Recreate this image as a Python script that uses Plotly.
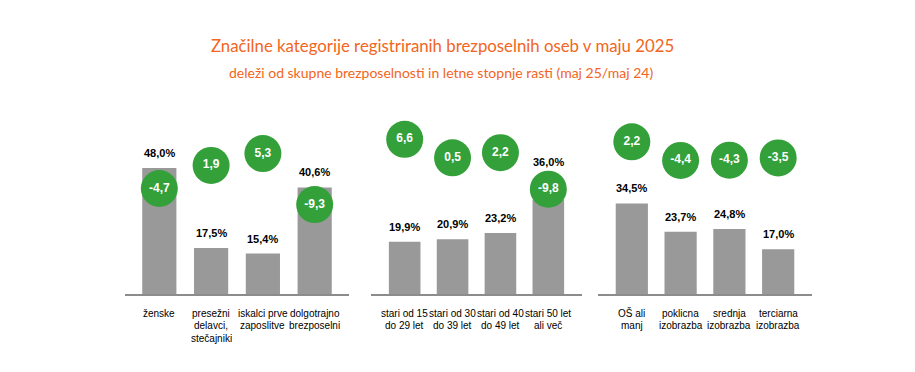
import plotly.graph_objects as go

# ---- data ----
cats1 = ["ženske", "presežni<br>delavci,<br>stečajniki", "iskalci prve<br>zaposlitve", "dolgotrajno<br>brezposelni"]
share1 = [48.0, 17.5, 15.4, 40.6]
growth1 = [-4.7, 1.9, 5.3, -9.3]

cats2 = ["stari od 15<br>do 29 let", "stari od 30<br>do 39 let", "stari od 40<br>do 49 let", "stari 50 let<br>ali več"]
share2 = [19.9, 20.9, 23.2, 36.0]
growth2 = [6.6, 0.5, 2.2, -9.8]

cats3 = ["OŠ ali<br>manj", "poklicna<br>izobrazba", "srednja<br>izobrazba", "terciarna<br>izobrazba"]
share3 = [34.5, 23.7, 24.8, 17.0]
growth3 = [2.2, -4.4, -4.3, -3.5]

title = "Značilne kategorije registriranih brezposelnih oseb v maju 2025"
subtitle = "deleži od skupne brezposelnosti in letne stopnje rasti (maj 25/maj 24)"

# ---- style ----
W, H = 915, 372
BAR = "#999999"
GREEN = "#34A03A"
ORANGE = "#F26522"
AXIS = "#8C8C8C"
SANS = "Liberation Sans, Arial, sans-serif"
BASE_PX, TOP_PX, BAR_MAX = 294, 136.5, 60
R = 18.5

def py(px):
    return 1 - px / H

panels = [
    (cats1, share1, growth1, [125 / W, 349 / W], [-57.19, 49.22]),
    (cats2, share2, growth2, [371 / W, 582 / W], [-69.99, 52.46]),
    (cats3, share3, growth3, [598 / W, 812 / W], [-79.41, 52.50]),
]

fig = go.Figure()
annotations = []
layout = {}

for i, (cats, share, growth, xdom, grange) in enumerate(panels):
    n = i + 1
    xa = "x" if n == 1 else f"x{n}"
    ya = "y" if n == 1 else f"y{n}"
    ga = f"y{n + 3}"
    keys = [c.replace("<br>", " ") for c in cats]

    fig.add_trace(go.Bar(
        x=keys, y=share, xaxis=xa, yaxis=ya,
        marker=dict(color=BAR, line=dict(width=0)),
        width=0.66, showlegend=False, hoverinfo="skip",
    ))
    fig.add_trace(go.Scatter(
        x=keys, y=growth, xaxis=xa, yaxis=ga,
        mode="markers+text",
        marker=dict(size=2 * R, color=GREEN, line=dict(width=0)),
        text=[f"{v:.1f}".replace(".", ",") for v in growth],
        textposition="middle center",
        textfont=dict(family=SANS, size=12, color="white", weight="bold"),
        showlegend=False, hoverinfo="skip", cliponaxis=False,
    ))

    layout[f"xaxis{'' if n == 1 else n}"] = dict(
        domain=xdom, anchor=ya, type="category",
        showline=True, linecolor=AXIS, linewidth=1.5,
        showticklabels=False, ticks="", showgrid=False, zeroline=False,
        fixedrange=True,
    )
    layout[f"yaxis{'' if n == 1 else n}"] = dict(
        domain=[py(BASE_PX), py(TOP_PX)], anchor=xa, range=[0, BAR_MAX],
        visible=False, showgrid=False, zeroline=False,
    )
    layout[f"yaxis{n + 3}"] = dict(
        domain=[0, 1], anchor=xa, range=grange,
        visible=False, showgrid=False, zeroline=False,
    )

    for k, c, v, g in zip(keys, cats, share, growth):
        # pixel positions (for collision check only)
        bar_top = BASE_PX - v * (BASE_PX - TOP_PX) / BAR_MAX
        circ = H * (grange[1] - g) / (grange[1] - grange[0])
        label_txt = f"{v:.1f}%".replace(".", ",")
        lfont = dict(family=SANS, size=11, color="black", weight="bold")
        if abs(circ - (bar_top - 14)) < R + 7 and circ < bar_top:
            annotations.append(dict(
                x=k, y=g, xref=xa, yref=ga, text=label_txt,
                showarrow=False, yanchor="middle", yshift=R + 9, font=lfont,
            ))
        else:
            annotations.append(dict(
                x=k, y=v, xref=xa, yref=ya, text=label_txt,
                showarrow=False, yanchor="bottom", yshift=7, font=lfont,
            ))
        for li, line in enumerate(c.split("<br>")):
            annotations.append(dict(
                x=k, y=py(313 + li * 12.5), xref=xa, yref="paper",
                text=line, showarrow=False, yanchor="middle",
                font=dict(family=SANS, size=10, color="black"),
            ))

annotations.append(dict(
    x=442 / W, y=py(45), xref="paper", yref="paper", text=title,
    showarrow=False, xanchor="center", yanchor="middle",
    font=dict(family="Lato, Open Sans, sans-serif", size=16.8, color=ORANGE),
))
annotations.append(dict(
    x=441 / W, y=py(72), xref="paper", yref="paper", text=subtitle,
    showarrow=False, xanchor="center", yanchor="middle",
    font=dict(family="Lato, Open Sans, sans-serif", size=14, color=ORANGE),
))

fig.update_layout(
    width=W, height=H,
    margin=dict(l=0, r=0, t=0, b=0),
    paper_bgcolor="white", plot_bgcolor="rgba(0,0,0,0)",
    bargap=0.34,
    annotations=annotations,
    **layout,
)

fig.write_html(
    "out.html",
    config={"displayModeBar": False},
    post_script="document.body.style.margin='0';document.body.style.overflow='hidden';",
)
